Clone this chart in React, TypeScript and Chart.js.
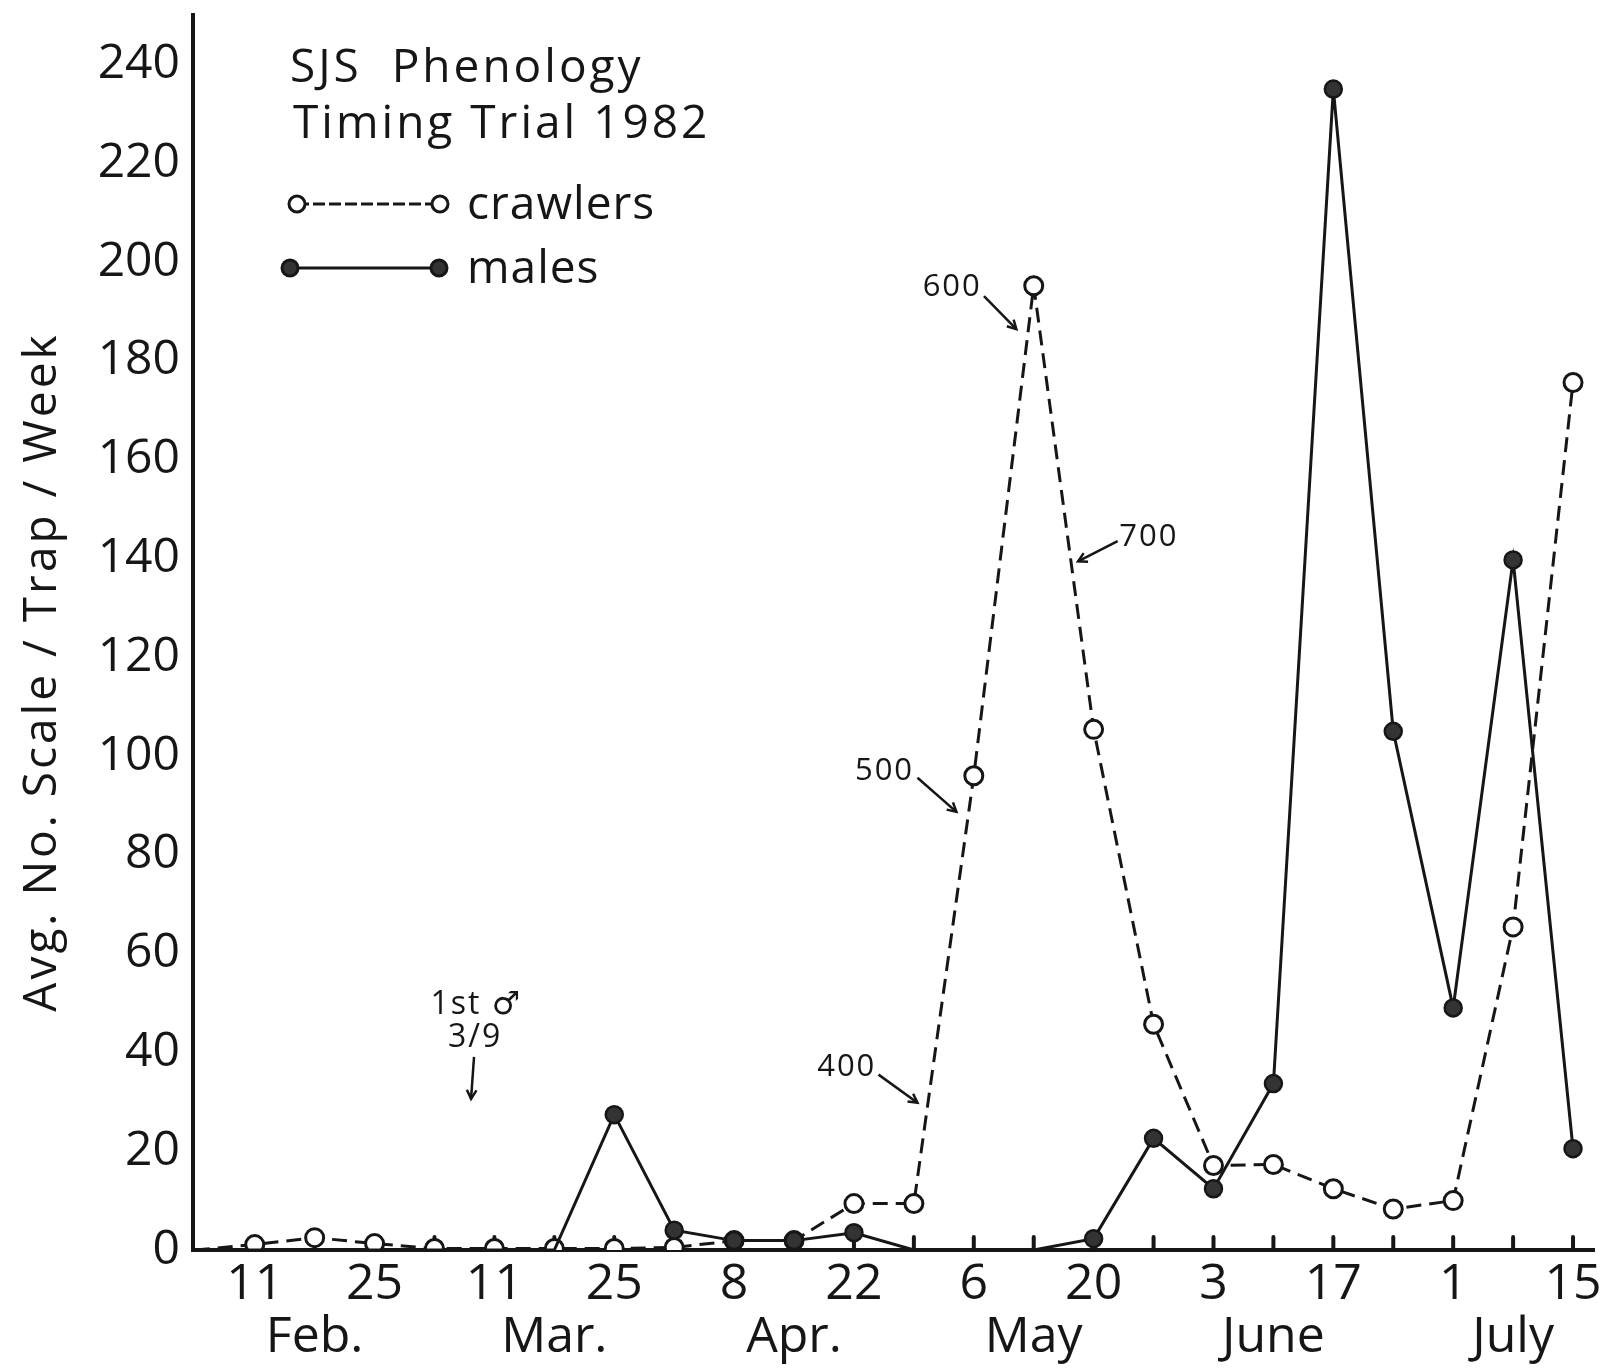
import React, { useEffect, useRef } from 'react';
import { Chart, registerables } from 'chart.js';

Chart.register(...registerables);

// ---------- data ----------
const weeks = ['Feb 4', 'Feb 11', 'Feb 18', 'Feb 25', 'Mar 4', 'Mar 11', 'Mar 18', 'Mar 25', 'Apr 1', 'Apr 8', 'Apr 15', 'Apr 22', 'Apr 29', 'May 6', 'May 13', 'May 20', 'May 27', 'Jun 3', 'Jun 10', 'Jun 17', 'Jun 24', 'Jul 1', 'Jul 8', 'Jul 15'];
const weekIndex = [-1, 0, 1, 2, 3, 4, 5, 6, 7, 8, 9, 10, 11, 12, 13, 14, 15, 16, 17, 18, 19, 20, 21, 22];
const dayTickLabels = ['', '11', '', '25', '', '11', '', '25', '', '8', '', '22', '', '6', '', '20', '', '3', '', '17', '', '1', '', '15'];
const monthTickLabels = ['', '', 'Feb.', '', '', '', 'Mar.', '', '', '', 'Apr.', '', '', '', 'May', '', '', '', 'June', '', '', '', 'July', ''];
const crawlers = [0, 1.1, 2.5, 1.3, 0.3, 0.3, 0.3, 0.3, 0.5, 1.9, 1.9, 9.4, 9.4, 96, 195.2, 105.4, 45.7, 17.1, 17.3, 12.4, 8.3, 10, 65.4, 175.6];
const males = [0, 0, 0, 0, 0, 0, 0, 27.4, 4.0, 1.9, 1.9, 3.5, 0, 0, 0, 2.3, 22.6, 12.4, 33.7, 235, 105, 49, 139.7, 20.5];
const yTicks = [0, 20, 40, 60, 80, 100, 120, 140, 160, 180, 200, 220, 240];

const titleLines = ['SJS  Phenology', 'Timing Trial 1982'];
const seriesNames = ['crawlers', 'males'];
const yAxisTitle = 'Avg. No. Scale / Trap / Week';

// degree-day annotations (week index, value)
const noteText = ['600', '700', '500', '400'];
const noteX = [11.64, 14.92, 10.51, 9.88];
const noteY = [194.9, 144.3, 96.9, 37.1];
const arrowFromX = [12.17, 14.40, 11.06, 10.41];
const arrowFromY = [193.1, 143.5, 95.6, 35.5];
const arrowToX = [12.71, 13.74, 11.71, 11.06];
const arrowToY = [186.4, 139.4, 88.7, 29.8];

// first male note
const firstMaleLines = ['1st \u2642', '3/9'];
const firstMaleX = [3.70, 3.68];
const firstMaleY = [49.6, 43.0];
const firstMaleArrow = { x1: 3.66, y1: 39.1, x2: 3.61, y2: 30.6 };

const INK = '#161616';
const FONT = '"Open Sans", "DejaVu Sans", sans-serif';

function drawArrow(ctx: CanvasRenderingContext2D, x1: number, y1: number, x2: number, y2: number) {
  ctx.beginPath();
  ctx.moveTo(x1, y1);
  ctx.lineTo(x2, y2);
  ctx.stroke();
  const a = Math.atan2(y2 - y1, x2 - x1);
  const h = 10;
  ctx.beginPath();
  ctx.moveTo(x2 - h * Math.cos(a - 0.5), y2 - h * Math.sin(a - 0.5));
  ctx.lineTo(x2, y2);
  ctx.lineTo(x2 - h * Math.cos(a + 0.5), y2 - h * Math.sin(a + 0.5));
  ctx.stroke();
}

const decorPlugin = {
  id: 'decor',
  beforeDatasetsDraw(chart: any) {
    const { ctx, scales } = chart;
    const x = scales.x;
    const y = scales.y;
    const y0 = y.getPixelForValue(0);
    ctx.save();
    ctx.strokeStyle = INK;
    ctx.lineWidth = 4;
    ctx.lineCap = 'round';
    for (const w of weekIndex) {
      if (w < 0) continue;
      const px = x.getPixelForValue(w);
      ctx.beginPath();
      ctx.moveTo(px, y0);
      ctx.lineTo(px, y0 - 13);
      ctx.stroke();
    }
    ctx.restore();
  },
  afterDatasetsDraw(chart: any) {
    const { ctx, scales } = chart;
    const x = scales.x;
    const y = scales.y;
    ctx.save();
    ctx.fillStyle = INK;
    ctx.strokeStyle = INK;

    // y axis title
    ctx.save();
    ctx.font = `500 46px ${FONT}`;
    (ctx as any).letterSpacing = '3px';
    ctx.translate(56, 672);
    ctx.rotate(-Math.PI / 2);
    ctx.textAlign = 'center';
    ctx.textBaseline = 'alphabetic';
    ctx.fillText(yAxisTitle, 0, 0);
    ctx.restore();

    // title
    ctx.save();
    ctx.font = `500 46px ${FONT}`;
    (ctx as any).letterSpacing = '3px';
    ctx.textAlign = 'left';
    ctx.textBaseline = 'alphabetic';
    ctx.fillText(titleLines[0], 290, 82);
    ctx.fillText(titleLines[1], 293, 138);
    ctx.restore();

    // legend
    ctx.save();
    ctx.lineWidth = 3;
    ctx.setLineDash([12, 4]);
    ctx.beginPath();
    ctx.moveTo(297, 204);
    ctx.lineTo(440, 204);
    ctx.stroke();
    ctx.setLineDash([]);
    ctx.beginPath();
    ctx.moveTo(290, 268);
    ctx.lineTo(439, 268);
    ctx.stroke();
    for (const cx of [297, 440]) {
      ctx.beginPath();
      ctx.arc(cx, 204, 8, 0, Math.PI * 2);
      ctx.fillStyle = '#ffffff';
      ctx.fill();
      ctx.stroke();
    }
    for (const cx of [290, 439]) {
      ctx.beginPath();
      ctx.arc(cx, 268, 8, 0, Math.PI * 2);
      ctx.fillStyle = '#333333';
      ctx.fill();
      ctx.stroke();
    }
    ctx.fillStyle = INK;
    ctx.font = `500 46px ${FONT}`;
    (ctx as any).letterSpacing = '1px';
    ctx.textAlign = 'left';
    ctx.textBaseline = 'alphabetic';
    ctx.fillText(seriesNames[0], 467, 219);
    ctx.fillText(seriesNames[1], 467, 283);
    ctx.restore();

    // degree-day notes
    ctx.save();
    ctx.font = `500 31px ${FONT}`;
    (ctx as any).letterSpacing = '2px';
    ctx.textAlign = 'center';
    ctx.textBaseline = 'middle';
    ctx.lineWidth = 2.5;
    for (let i = 0; i < noteText.length; i++) {
      ctx.fillText(noteText[i], x.getPixelForValue(noteX[i]), y.getPixelForValue(noteY[i]));
      drawArrow(ctx, x.getPixelForValue(arrowFromX[i]), y.getPixelForValue(arrowFromY[i]), x.getPixelForValue(arrowToX[i]), y.getPixelForValue(arrowToY[i]));
    }
    ctx.font = `500 32px ${FONT}`;
    for (let i = 0; i < firstMaleLines.length; i++) {
      ctx.fillText(firstMaleLines[i], x.getPixelForValue(firstMaleX[i]), y.getPixelForValue(firstMaleY[i]));
    }
    drawArrow(ctx, x.getPixelForValue(firstMaleArrow.x1), y.getPixelForValue(firstMaleArrow.y1), x.getPixelForValue(firstMaleArrow.x2), y.getPixelForValue(firstMaleArrow.y2));
    ctx.restore();

    ctx.restore();
  },
};

export default function App() {
  const canvasRef = useRef<HTMLCanvasElement | null>(null);

  useEffect(() => {
    const canvas = canvasRef.current;
    if (!canvas) return;
    const chart = new Chart(canvas, {
      type: 'line',
      data: {
        datasets: [
          {
            label: seriesNames[1],
            data: weekIndex.map((w, i) => ({ x: w, y: males[i] })),
            borderColor: INK,
            borderWidth: 3,
            pointBackgroundColor: '#333333',
            pointBorderColor: INK,
            pointBorderWidth: 2.5,
            pointRadius: (c: any) => (c.raw && c.raw.y === 0 ? 0 : 8.5),
            tension: 0,
            clip: { left: 12, right: 12, top: 12, bottom: 0 } as any,
          },
          {
            label: seriesNames[0],
            data: weekIndex.map((w, i) => ({ x: w, y: crawlers[i] })),
            borderColor: INK,
            borderWidth: 3,
            borderDash: [15, 8],
            pointBackgroundColor: '#ffffff',
            pointBorderColor: INK,
            pointBorderWidth: 3,
            pointRadius: (c: any) => (c.raw && c.raw.x < 0 ? 0 : 9),
            tension: 0,
            clip: { left: 12, right: 12, top: 12, bottom: 0 } as any,
          },
        ],
      },
      options: {
        responsive: false,
        devicePixelRatio: 1,
        animation: false,
        layout: { padding: { top: 15, right: 9, left: 0, bottom: 0 } },
        plugins: {
          legend: { display: false },
          tooltip: { enabled: false },
          title: { display: false },
        },
        scales: {
          x: {
            type: 'linear',
            min: -1.03,
            max: 22.35,
            afterFit: (s: any) => {
              s.height = 122;
              s.paddingLeft = 0;
              s.paddingRight = 0;
            },
            afterBuildTicks: (s: any) => {
              s.ticks = weekIndex.filter((w) => w >= 0).map((w) => ({ value: w }));
            },
            ticks: {
              autoSkip: false,
              maxRotation: 0,
              minRotation: 0,
              padding: 8,
              color: INK,
              font: { family: FONT, size: 50, weight: '500', lineHeight: 1.06 },
              callback: (v: any) => {
                const i = weekIndex.indexOf(Number(v));
                return i < 0 ? '' : [dayTickLabels[i], monthTickLabels[i]];
              },
            },
            grid: { display: false, drawTicks: false },
            border: { display: true, width: 4, color: INK },
          },
          y: {
            min: 0,
            max: 250,
            afterFit: (s: any) => {
              s.width = 193;
              s.paddingTop = 0;
              s.paddingBottom = 0;
            },
            afterBuildTicks: (s: any) => {
              s.ticks = yTicks.map((v) => ({ value: v }));
            },
            ticks: {
              autoSkip: false,
              padding: 13,
              color: INK,
              font: { family: FONT, size: 48, weight: '500' },
            },
            grid: { display: false, drawTicks: false },
            border: { display: true, width: 4, color: INK },
          },
        },
      },
      plugins: [decorPlugin],
    } as any);
    return () => chart.destroy();
  }, []);

  return (
    <div style={{ position: 'absolute', left: 0, top: 0, width: 1606, height: 1372, background: '#ffffff' }}>
      <canvas ref={canvasRef} width={1606} height={1372} style={{ display: 'block' }} />
    </div>
  );
}
